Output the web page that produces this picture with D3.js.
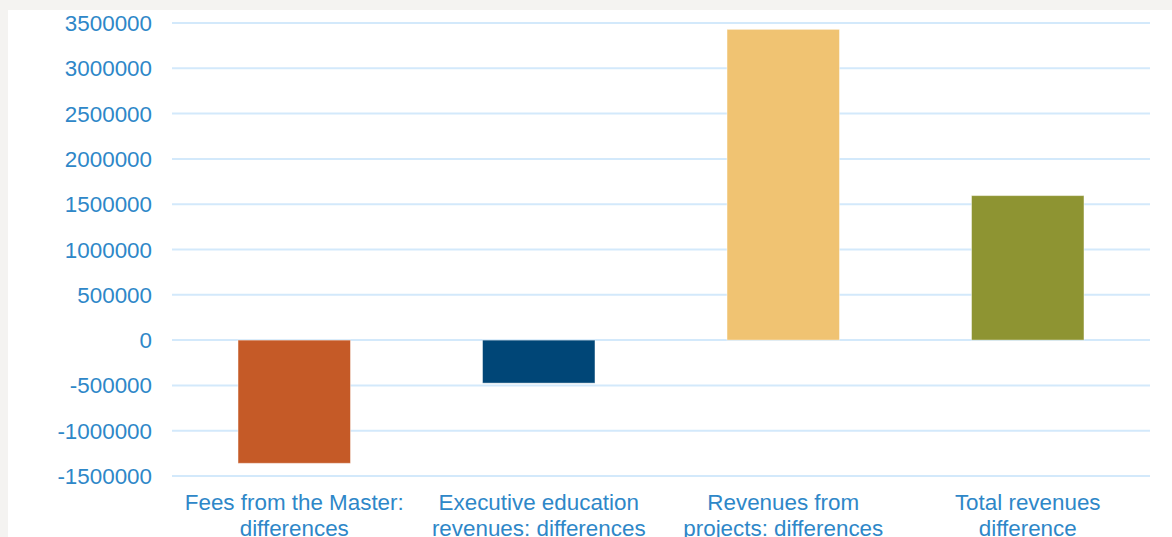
<!DOCTYPE html>
<html><head><meta charset="utf-8">
<script src="https://cdn.jsdelivr.net/npm/d3@7"></script>
<style>
html,body{margin:0;padding:0;background:#f4f3f1;}
svg{display:block;}
</style></head>
<body>
<svg id="chart" width="1172" height="537"></svg>
<script>
const categories = [
  ["Fees from the Master:", "differences"],
  ["Executive education", "revenues: differences"],
  ["Revenues from", "projects: differences"],
  ["Total revenues", "difference"]
];
const values = [-1360000, -475000, 3430000, 1595000];
const colors = ["#c55a27", "#004677", "#f0c372", "#8e9432"];
const tickValues = [-1500000, -1000000, -500000, 0, 500000, 1000000, 1500000, 2000000, 2500000, 3000000, 3500000];

const svg = d3.select("#chart");
svg.append("rect").attr("x", 8).attr("y", 10).attr("width", 1164).attr("height", 527).attr("fill", "#ffffff");

const x = d3.scaleBand().domain(d3.range(categories.length)).range([172, 1150]).paddingInner(0.54).paddingOuter(0.27);
const y = d3.scaleLinear().domain([-1500000, 3500000]).range([476, 23]);

// gridlines
svg.append("g").selectAll("line").data(tickValues).join("line")
  .attr("x1", 172).attr("x2", 1150)
  .attr("y1", d => y(d)).attr("y2", d => y(d))
  .attr("stroke", "#d3e9fb").attr("stroke-width", 2);

// y labels
svg.append("g").selectAll("text").data(tickValues).join("text")
  .attr("x", 152).attr("y", d => y(d)).attr("dy", "0.36em")
  .attr("text-anchor", "end")
  .attr("font-family", "Liberation Sans, Arial, sans-serif")
  .attr("font-size", 22.4).attr("fill", "#2e87c8")
  .text(d => String(d));

// bars
svg.append("g").selectAll("rect").data(values).join("rect")
  .attr("x", (d, i) => x(i)).attr("width", x.bandwidth())
  .attr("y", d => y(Math.max(0, d))).attr("height", d => Math.abs(y(d) - y(0)))
  .attr("fill", (d, i) => colors[i])
  .attr("stroke", "rgba(255,255,255,0.45)").attr("stroke-width", 1);

// category labels
const lab = svg.append("g").selectAll("text").data(categories).join("text")
  .attr("x", (d, i) => x(i) + x.bandwidth() / 2).attr("y", 510)
  .attr("text-anchor", "middle")
  .attr("font-family", "Liberation Sans, Arial, sans-serif")
  .attr("font-size", 22.4).attr("fill", "#2e87c8");
lab.each(function(d) {
  const t = d3.select(this);
  d.forEach((line, k) => {
    t.append("tspan").attr("x", t.attr("x")).attr("dy", k === 0 ? 0 : 26).text(line);
  });
});
</script>
</body></html>
